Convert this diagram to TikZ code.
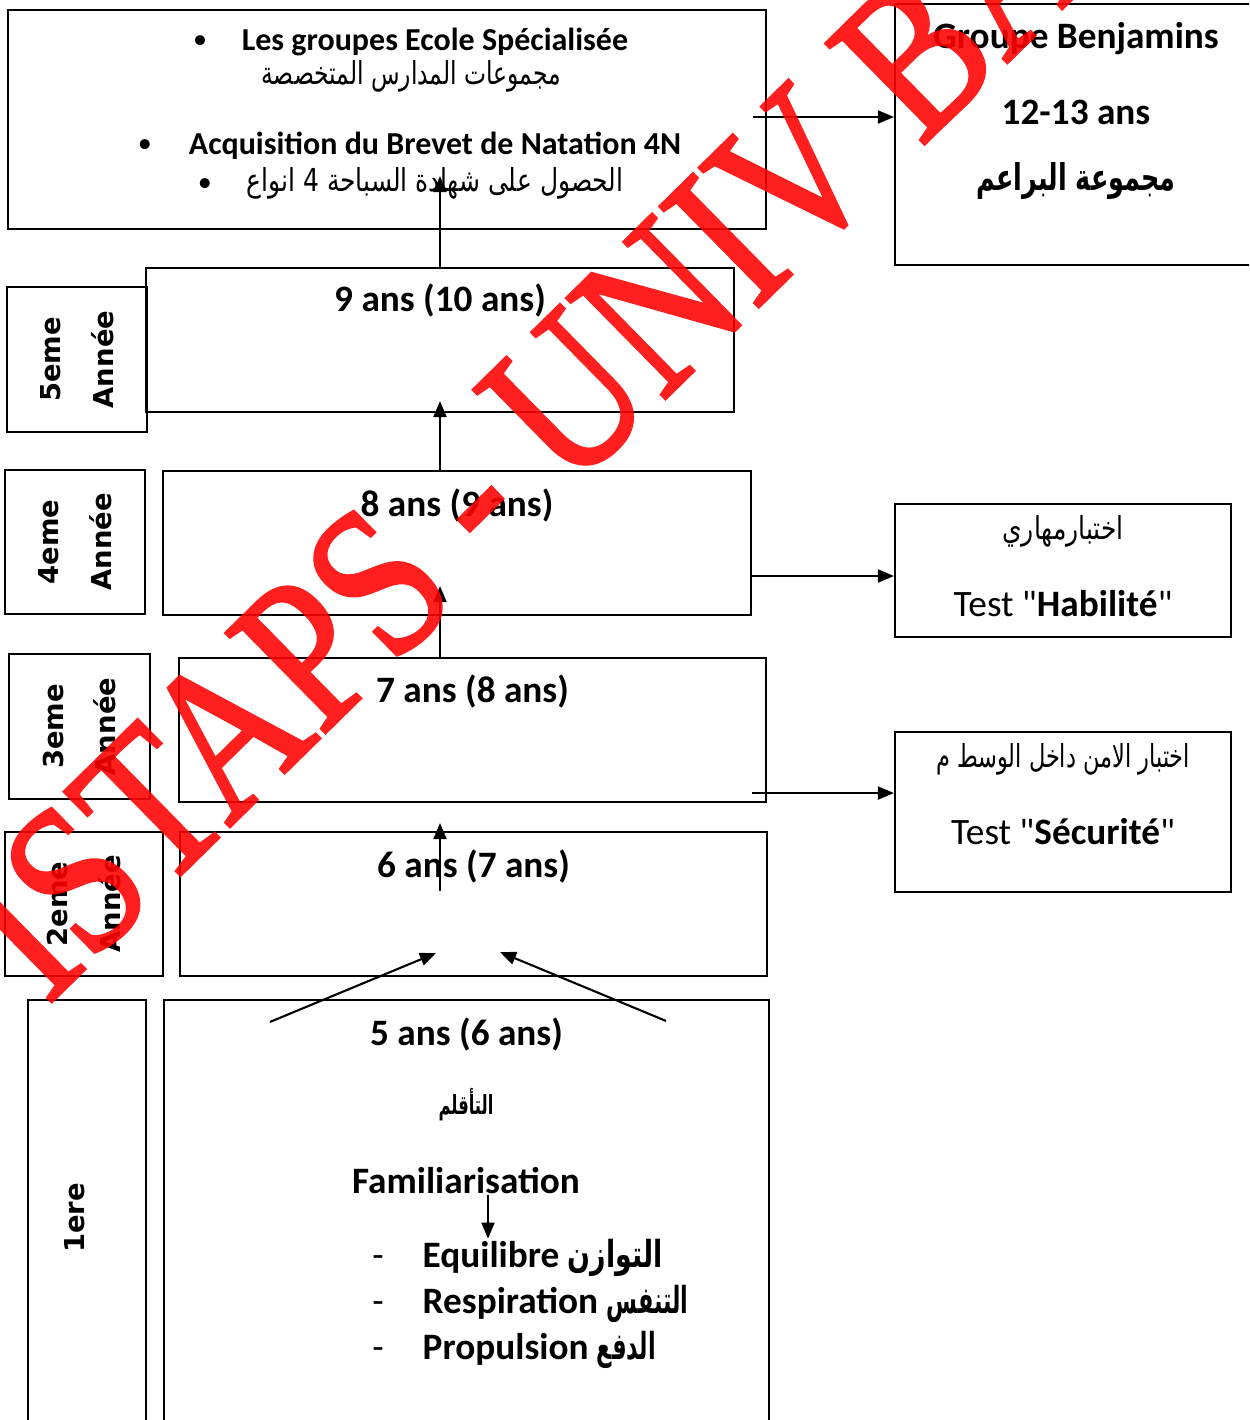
\documentclass[tikz,border=0pt]{standalone}
\usepackage{fontspec}
\usepackage{tikz}
\usetikzlibrary{arrows.meta,positioning}
\newfontfamily\calib{Carlito}
\newfontfamily\arabicfont[Script=Arabic]{DejaVu Sans}
\newfontfamily\labfont{DejaVu Sans}
\newfontfamily\wmfont[FakeBold=1.5]{Liberation Serif}
\TeXXeTstate=1
\newcommand\artxt[2]{\scalebox{#1}[1]{\arabicfont #2}}
\definecolor{wmred}{RGB}{255,0,0}

\tikzset{
  box/.style={draw, line width=.6pt, inner sep=0pt},
  yearlab/.style={box, rotate=90, align=center, font=\labfont\bfseries\fontsize{7.8}{15}\selectfont},
  age/.style={font=\calib\bfseries\fontsize{10.6}{12}\selectfont, inner sep=0pt},
  txt/.style={font=\calib\fontsize{10.6}{12}\selectfont, inner sep=0pt},
  head/.style={font=\calib\bfseries\fontsize{9.1}{11}\selectfont, inner sep=0pt},
  dot/.style={font=\calib\fontsize{8}{10}\selectfont, inner sep=0pt},
  artx/.style={font=\fontsize{9}{11}\selectfont, inner sep=0pt},
  arr/.style={line width=.6pt, -{Triangle[length=1.6mm,width=1.3mm]}},
}

\begin{document}
\begin{tikzpicture}
 \useasboundingbox (0,0) rectangle (12.49,-14.20);
 \clip (0,0) rectangle (12.49,-14.20);
 % boxes
 \node[box, minimum width=7.58cm, minimum height=2.19cm] (ecole) at (3.87,-1.195) {};
 \node[box, minimum width=3.62cm, minimum height=2.61cm] (benj) at (10.76,-1.345) {};
 \node[box, minimum width=5.88cm, minimum height=1.44cm] (y5) at (4.40,-3.40) {};
 \node[box, minimum width=5.88cm, minimum height=1.44cm] (y4) at (4.57,-5.43) {};
 \node[box, minimum width=5.87cm, minimum height=1.44cm] (y3) at (4.725,-7.30) {};
 \node[box, minimum width=5.87cm, minimum height=1.44cm] (y2) at (4.735,-9.04) {};
 \node[box, minimum width=6.05cm, minimum height=4.40cm] (y1) at (4.665,-12.20) {};
 \node[box, minimum width=3.36cm, minimum height=1.33cm] (hab) at (10.63,-5.705) {};
 \node[box, minimum width=3.36cm, minimum height=1.60cm] (sec) at (10.63,-8.12) {};
 % year labels
 \node[yearlab, minimum width=1.45cm, minimum height=1.40cm] (l5) at (0.77,-3.595) {5eme\\Année};
 \node[yearlab, minimum width=1.44cm, minimum height=1.40cm] (l4) at (0.75,-5.42) {4eme\\Année};
 \node[yearlab, minimum width=1.45cm, minimum height=1.41cm] (l3) at (0.795,-7.265) {3eme\\Année};
 \node[yearlab, minimum width=1.44cm, minimum height=1.58cm] (l2) at (0.84,-9.04) {2eme\\Année};
 \node[yearlab, minimum width=4.40cm, minimum height=1.18cm] (l1) at (0.87,-12.20) {};
 \node[yearlab, draw=none] (l1t) at ([xshift=-.12cm,yshift=.02cm]l1.center) {1ere};
 % texts
 \node[dot] (b1) at (2.00,-0.42) {•};
 \node[head] (ec1) at (4.35,-0.42) {Les groupes Ecole Spécialisée};
 \node[artx] (ec2) at (4.11,-0.76) {\artxt{.74}{\beginR مجموعات المدارس المتخصصة\endR}};
 \node[dot] (b2) at (1.45,-1.46) {•};
 \node[head] (ec3) at (4.35,-1.46) {Acquisition du Brevet de Natation 4N};
 \node[dot] (b3) at (2.05,-1.85) {•};
 \node[artx] (ec4) at (4.35,-1.83) {\artxt{.79}{\beginR الحصول على شهادة السباحة 4 انواع\endR}};
 \node[age] (bj1) at (10.76,-0.39) {Groupe Benjamins};
 \node[age] (bj2) at (10.76,-1.12) {12-13 ans};
 \node[age, font=\bfseries\fontsize{10.5}{13}\selectfont] (bj3) at (10.76,-1.81) {\artxt{.69}{\beginR مجموعة البراعم\endR}};
 \node[age] (a5) at ([yshift=-.34cm]y5.north) {9 ans (10 ans)};
 \node[age] (a4) at ([yshift=-.36cm]y4.north) {8 ans (9 ans)};
 \node[age] (a3) at ([yshift=-.35cm]y3.north) {7 ans (8 ans)};
 \node[age] (a2) at ([yshift=-.36cm]y2.north) {6 ans (7 ans)};
 \node[age] (a1) at ([yshift=-.36cm]y1.north) {5 ans (6 ans)};
 \node[artx, font=\bfseries\fontsize{7.5}{10}\selectfont] (acc) at (4.66,-11.05) {\artxt{.62}{التأقلم}};
 \node[age] (fam) at (4.66,-11.81) {Familiarisation};
 \node[txt] (d1) at (3.78,-12.62) {-};
 \node[txt] (d2) at (3.78,-13.08) {-};
 \node[txt] (d3) at (3.78,-13.54) {-};
 \node[age, anchor=west] (eq) at (4.22,-12.58) {Equilibre \artxt{.72}{التوازن}};
 \node[age, anchor=west] (re) at (4.22,-13.04) {Respiration \artxt{.6}{التنفس}};
 \node[age, anchor=west] (pr) at (4.22,-13.50) {Propulsion \artxt{.6}{الدفع}};
 \node[artx] (h1) at (10.63,-5.31) {\artxt{.79}{اختبارمهاري}};
 \node[txt] (h2) at (10.63,-6.04) {Test "\textbf{Habilité}"};
 \node[artx] (s1) at (10.63,-7.59) {\artxt{.71}{\beginR اختبار الامن داخل الوسط م\endR}};
 \node[txt] (s2) at (10.63,-8.32) {Test "\textbf{Sécurité}"};
 % connectors
 \coordinate (s0) at ([xshift=-.14cm,yshift=.025cm]ecole.east);
 \draw[arr] (s0) -- (s0 -| benj.west);
 \draw[arr] (y5.north) -- ([yshift=.54cm]ecole.south -| y5.north);
 \draw[arr] (y4.north -| y5.north) -- ([yshift=.12cm]y5.south);
 \draw[arr] (y3.north -| y5.north) -- ([yshift=.30cm]y4.south -| y5.north);
 \draw[arr] ([yshift=-.60cm]y2.north -| y5.north) -- ([yshift=-.20cm]y3.south -| y5.north);
 \draw[arr] ([shift={(1.07,-.23)}]y1.north west) -- ([shift={(2.57,.24)}]y2.south west);
 \draw[arr] ([shift={(-1.04,-.22)}]y1.north east) -- ([shift={(-2.68,.25)}]y2.south east);
 \coordinate (s4) at ([yshift=-.055cm]y4.east |- hab.west);
 \draw[arr] (s4) -- (s4 -| hab.west);
 \coordinate (s3) at ([xshift=-.15cm,yshift=.10cm]y3.south east);
 \draw[arr] (s3) -- (s3 -| sec.west);
 \draw[arr] ([xshift=.22cm]fam.south) -- ([xshift=.22cm]fam.south |- eq.north);
 % watermark
 \begin{scope}[shift={(5.24,-4.40)}, transparency group, opacity=.88]
  \node[rotate=44.5, yscale=1.2, transform shape, text=wmred, inner sep=0pt,
        font=\wmfont\fontsize{51}{51}\selectfont] (wm) at (0,0) {ISTAPS - UNIV BA};
 \end{scope}
\end{tikzpicture}
\end{document}
